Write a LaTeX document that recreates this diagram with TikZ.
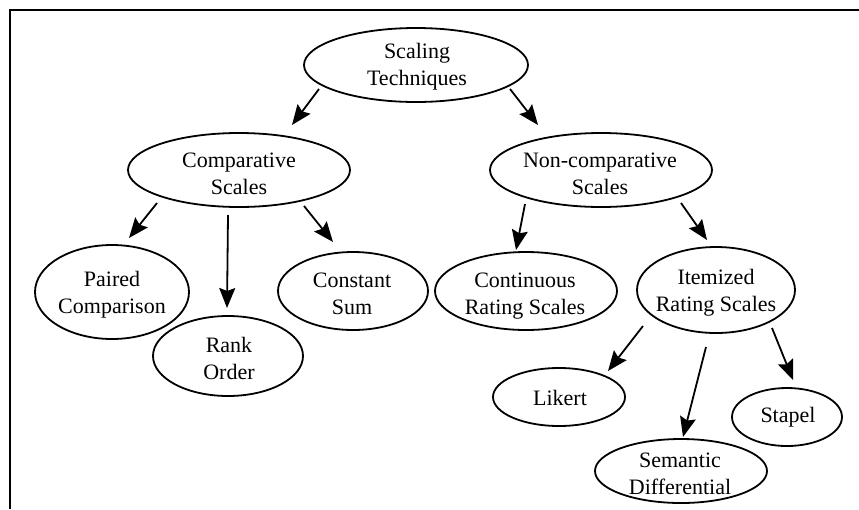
\documentclass[tikz,border=0pt]{standalone}
\usepackage{fontspec}
\setmainfont{Liberation Serif}
\usetikzlibrary{arrows.meta,shapes.geometric}
\begin{document}
\begin{tikzpicture}[x=1pt,y=-1pt,
  ell/.style={ellipse,draw,line width=1.8pt,inner sep=0pt,outer sep=0pt},
  lbl/.style={align=center,inner sep=0pt,font=\fontsize{22}{27}\selectfont},
  arr/.style={line width=1.8pt,-{Stealth[length=20pt,width=16pt,inset=3pt]}},
  frame/.style={line width=2pt}]
\useasboundingbox (0,0) rectangle (859,509);
% frame
\coordinate (fr1) at (859,10);
\coordinate (fr2) at (10,10);
\coordinate (fr3) at (10,509);
\draw[frame] (fr1) -- (fr2) -- (fr3);
% ellipses
\node[ell,minimum width=224pt,minimum height=74pt] (st) at (416,65) {};
\node[ell,minimum width=222pt,minimum height=74pt] (cs) at (239,170) {};
\node[ell,minimum width=222pt,minimum height=74pt] (nc) at (601,170) {};
\node[ell,minimum width=154pt,minimum height=94pt] (pc) at (112,292) {};
\node[ell,minimum width=150pt,minimum height=80pt] (ro) at (228,356) {};
\node[ell,minimum width=150pt,minimum height=78pt] (cn) at (353,291) {};
\node[ell,minimum width=182pt,minimum height=78pt] (cr) at (526,291) {};
\node[ell,minimum width=158pt,minimum height=86pt] (ir) at (716,290) {};
\node[ell,minimum width=132pt,minimum height=58pt] (lk) at (559,397) {};
\node[ell,minimum width=110pt,minimum height=58pt] (sp) at (787,417) {};
\node[ell,minimum width=172pt,minimum height=64pt] (sd) at (681,471) {};
% labels
\node[lbl] (stt) at (417,67) {\strut Scaling\\\strut Techniques};
\node[lbl] (cst) at (239,176) {\strut Comparative\\\strut Scales};
\node[lbl] (nct) at (600,176) {\strut Non-comparative\\\strut Scales};
\node[lbl] (pct) at (112,295) {\strut Paired\\\strut Comparison};
\node[lbl] (rot) at (229,361) {\strut Rank\\\strut Order};
\node[lbl] (cnt) at (352,296) {\strut Constant\\\strut Sum};
\node[lbl] (crt) at (525,296) {\strut Continuous\\\strut Rating Scales};
\node[lbl] (irt) at (716,293) {\strut Itemized\\\strut Rating Scales};
\node[lbl] (lkt) at (560,400) {\strut Likert};
\node[lbl] (spt) at (788,417) {\strut Stapel};
\node[lbl] (sdt) at (680,476) {\strut Semantic\\\strut Differential};
% connectors
\draw[arr] ([shift={(-97,24)}]st.center) -- ([shift={(53,-45)}]cs.center);
\draw[arr] ([shift={(94,24)}]st.center) -- ([shift={(-63,-45)}]nc.center);
\draw[arr] ([shift={(-82,33)}]cs.center) -- ([shift={(17,-54)}]pc.center);
\draw[arr] ([shift={(-11,45)}]cs.center) -- ([shift={(-1,-48)}]ro.center);
\draw[arr] ([shift={(65,36)}]cs.center) -- ([shift={(-20,-49)}]cn.center);
\draw[arr] ([shift={(-76,34)}]nc.center) -- ([shift={(-10,-41)}]cr.center);
\draw[arr] ([shift={(80,33)}]nc.center) -- ([shift={(-9,-50)}]ir.center);
\draw[arr] ([shift={(-73,36)}]ir.center) -- ([shift={(49,-26)}]lk.center);
\draw[arr] ([shift={(-10,57)}]ir.center) -- ([shift={(2,-34)}]sd.center);
\draw[arr] ([shift={(56,38)}]ir.center) -- ([shift={(6,-37)}]sp.center);
\end{tikzpicture}
\end{document}
